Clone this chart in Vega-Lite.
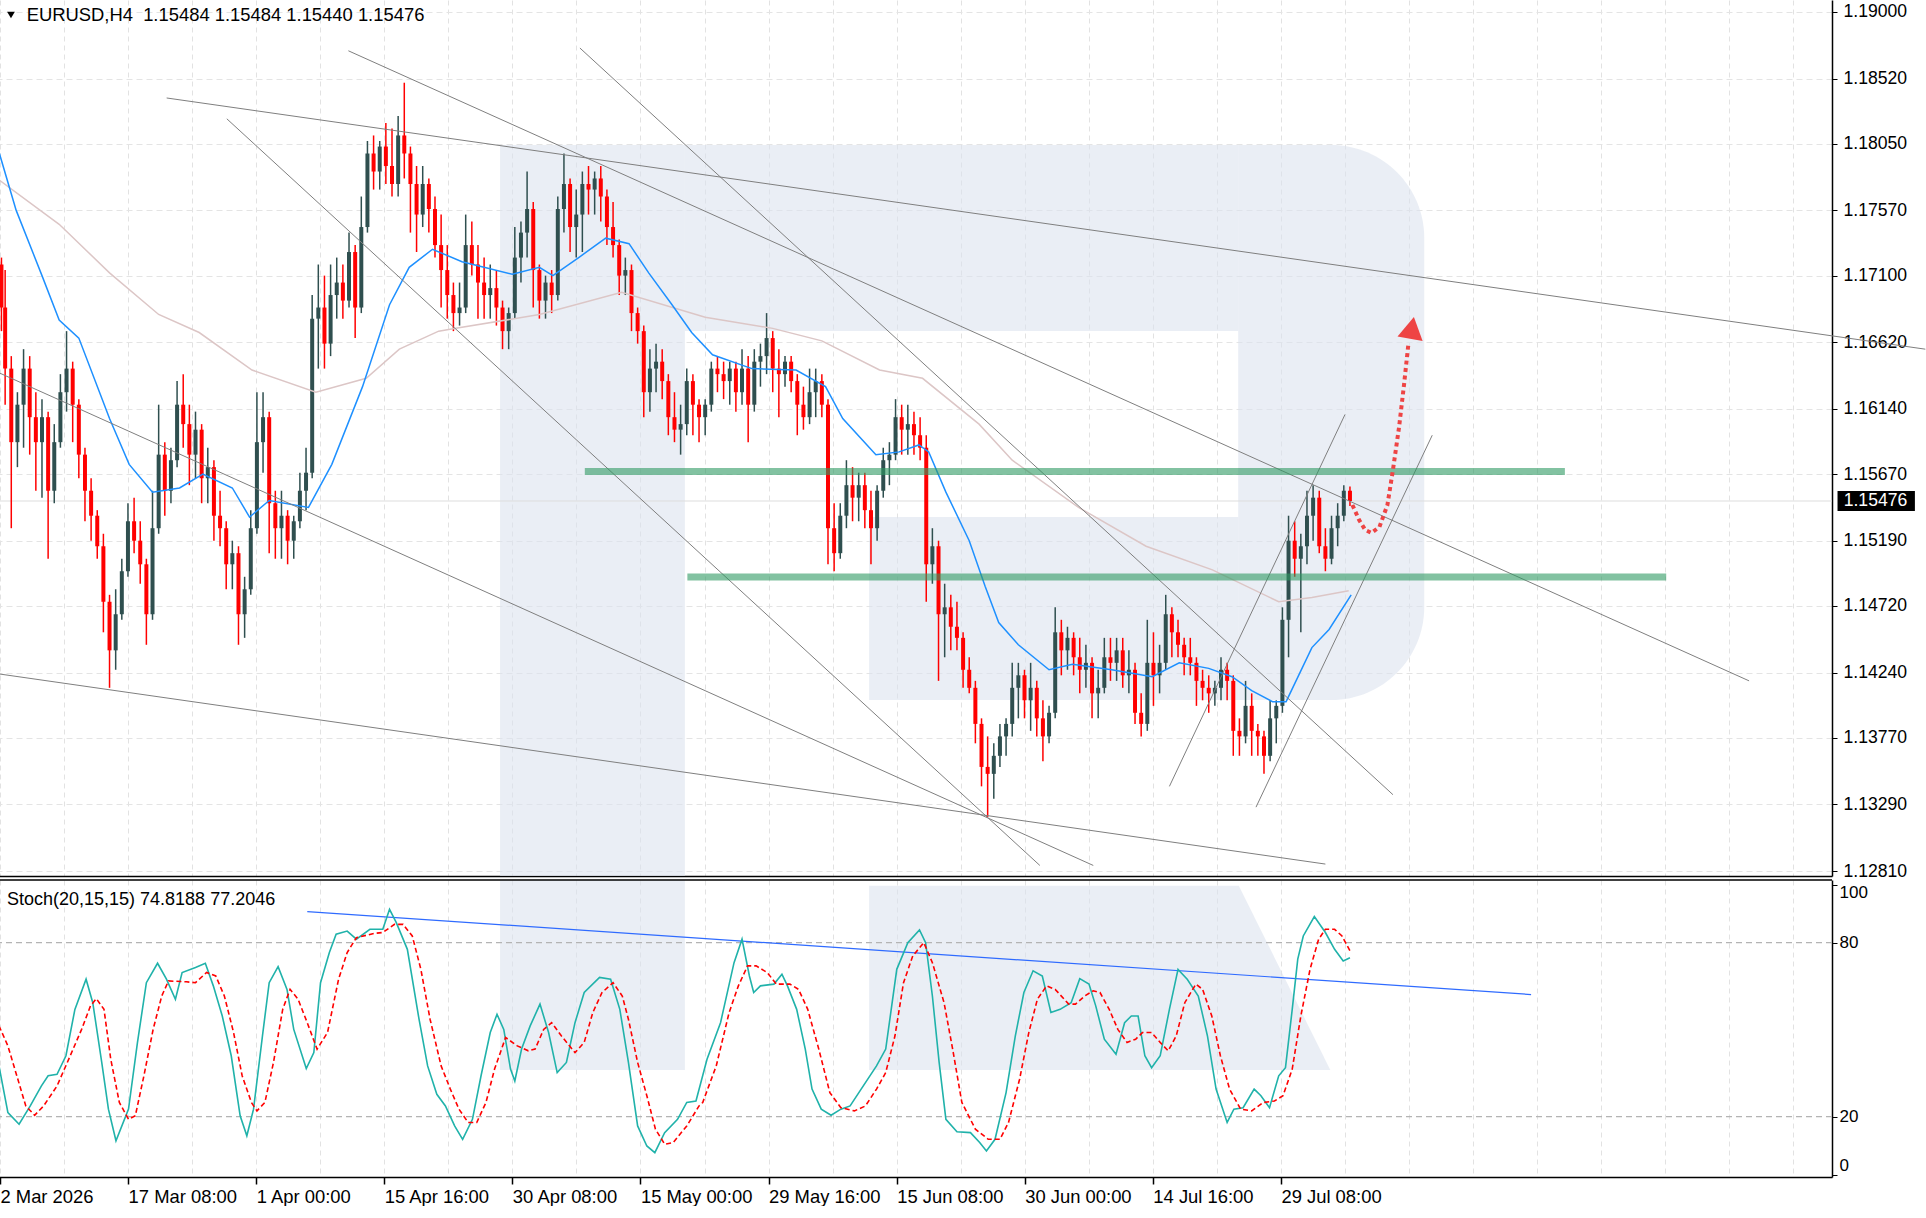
{
  "$schema": "https://vega.github.io/schema/vega-lite/v6.json",
  "background": "white",
  "padding": {"left": -5, "top": 0, "right": 0, "bottom": 0},
  "spacing": 4,
  "bounds": "flush",
  "config": {
    "view": {"stroke": null},
    "font": "Liberation Sans",
    "axis": {"labelFont": "Liberation Sans", "labelColor": "#000", "domainColor": "#000", "tickColor": "#000"}
  },
  "datasets": {
    "wmA": [
      {"x1": 81.6, "x2": 111.7, "p1": 1.12774, "p2": 1.18042},
      {"x1": 111.7, "x2": 201.8, "p1": 1.16701, "p2": 1.18042},
      {"x1": 141.7, "x2": 201.8, "p1": 1.14042, "p2": 1.15361}
    ],
    "wmB": [{"x1": 201.8, "x2": 232.1, "p1": 1.14042, "p2": 1.18042}],
    "wmC": [{"x1": 81.6, "x2": 111.7, "v1": 36.1, "v2": 101.6}],
    "wmD": [{"v": 99.6, "a": 141.7, "b": 201.9}, {"v": 36.1, "a": 141.7, "b": 216.8}],
    "candles": [
      {"n":0.4,"o":1.1718,"h":1.1723,"l":1.1670,"c":1.1687},
      {"n":1,"o":1.1687,"h":1.1714,"l":1.1617,"c":1.1643},
      {"n":2,"o":1.1643,"h":1.1652,"l":1.1528,"c":1.1590},
      {"n":3,"o":1.1590,"h":1.1626,"l":1.1572,"c":1.1617},
      {"n":4,"o":1.1617,"h":1.1657,"l":1.1586,"c":1.1643},
      {"n":5,"o":1.1643,"h":1.1652,"l":1.1581,"c":1.1608},
      {"n":6,"o":1.1608,"h":1.1626,"l":1.1555,"c":1.1590},
      {"n":7,"o":1.1590,"h":1.1621,"l":1.1550,"c":1.1608},
      {"n":8,"o":1.1608,"h":1.1612,"l":1.1506,"c":1.1555},
      {"n":9,"o":1.1555,"h":1.1603,"l":1.1546,"c":1.1590},
      {"n":10,"o":1.1590,"h":1.1639,"l":1.1586,"c":1.1626},
      {"n":11,"o":1.1626,"h":1.1670,"l":1.1612,"c":1.1643},
      {"n":12,"o":1.1643,"h":1.1648,"l":1.1590,"c":1.1617},
      {"n":13,"o":1.1617,"h":1.1621,"l":1.1564,"c":1.1581},
      {"n":14,"o":1.1581,"h":1.1586,"l":1.1533,"c":1.1555},
      {"n":15,"o":1.1555,"h":1.1564,"l":1.1519,"c":1.1537},
      {"n":16,"o":1.1537,"h":1.1541,"l":1.1506,"c":1.1515},
      {"n":17,"o":1.1515,"h":1.1524,"l":1.1453,"c":1.1475},
      {"n":18,"o":1.1475,"h":1.1480,"l":1.1413,"c":1.1440},
      {"n":19,"o":1.1440,"h":1.1484,"l":1.1426,"c":1.1466},
      {"n":20,"o":1.1466,"h":1.1506,"l":1.1462,"c":1.1497},
      {"n":21,"o":1.1497,"h":1.1546,"l":1.1493,"c":1.1533},
      {"n":22,"o":1.1533,"h":1.1550,"l":1.1510,"c":1.1519},
      {"n":23,"o":1.1519,"h":1.1533,"l":1.1488,"c":1.1502},
      {"n":24,"o":1.1502,"h":1.1506,"l":1.1444,"c":1.1466},
      {"n":25,"o":1.1466,"h":1.1555,"l":1.1462,"c":1.1528},
      {"n":26,"o":1.1528,"h":1.1617,"l":1.1524,"c":1.1581},
      {"n":27,"o":1.1581,"h":1.1590,"l":1.1537,"c":1.1555},
      {"n":28,"o":1.1555,"h":1.1586,"l":1.1546,"c":1.1577},
      {"n":29,"o":1.1577,"h":1.1634,"l":1.1572,"c":1.1617},
      {"n":30,"o":1.1617,"h":1.1639,"l":1.1586,"c":1.1603},
      {"n":31,"o":1.1603,"h":1.1617,"l":1.1559,"c":1.1581},
      {"n":32,"o":1.1581,"h":1.1612,"l":1.1564,"c":1.1599},
      {"n":33,"o":1.1599,"h":1.1603,"l":1.1546,"c":1.1564},
      {"n":34,"o":1.1564,"h":1.1586,"l":1.1546,"c":1.1572},
      {"n":35,"o":1.1572,"h":1.1577,"l":1.1519,"c":1.1537},
      {"n":36,"o":1.1537,"h":1.1555,"l":1.1515,"c":1.1528},
      {"n":37,"o":1.1528,"h":1.1533,"l":1.1484,"c":1.1502},
      {"n":38,"o":1.1502,"h":1.1519,"l":1.1484,"c":1.1510},
      {"n":39,"o":1.1510,"h":1.1515,"l":1.1444,"c":1.1466},
      {"n":40,"o":1.1466,"h":1.1493,"l":1.1449,"c":1.1484},
      {"n":41,"o":1.1484,"h":1.1541,"l":1.1480,"c":1.1528},
      {"n":42,"o":1.1528,"h":1.1626,"l":1.1524,"c":1.1590},
      {"n":43,"o":1.1590,"h":1.1626,"l":1.1568,"c":1.1608},
      {"n":44,"o":1.1608,"h":1.1612,"l":1.1510,"c":1.1546},
      {"n":45,"o":1.1546,"h":1.1555,"l":1.1506,"c":1.1528},
      {"n":46,"o":1.1528,"h":1.1555,"l":1.1506,"c":1.1537},
      {"n":47,"o":1.1537,"h":1.1541,"l":1.1502,"c":1.1519},
      {"n":48,"o":1.1519,"h":1.1537,"l":1.1506,"c":1.1533},
      {"n":49,"o":1.1533,"h":1.1568,"l":1.1528,"c":1.1555},
      {"n":50,"o":1.1555,"h":1.1586,"l":1.1541,"c":1.1568},
      {"n":51,"o":1.1568,"h":1.1696,"l":1.1564,"c":1.1679},
      {"n":52,"o":1.1679,"h":1.1718,"l":1.1643,"c":1.1687},
      {"n":53,"o":1.1687,"h":1.1710,"l":1.1643,"c":1.1661},
      {"n":54,"o":1.1661,"h":1.1718,"l":1.1652,"c":1.1696},
      {"n":55,"o":1.1696,"h":1.1723,"l":1.1679,"c":1.1705},
      {"n":56,"o":1.1705,"h":1.1718,"l":1.1679,"c":1.1692},
      {"n":57,"o":1.1692,"h":1.1741,"l":1.1687,"c":1.1727},
      {"n":58,"o":1.1727,"h":1.1732,"l":1.1665,"c":1.1687},
      {"n":59,"o":1.1687,"h":1.1767,"l":1.1683,"c":1.1745},
      {"n":60,"o":1.1745,"h":1.1807,"l":1.1741,"c":1.1798},
      {"n":61,"o":1.1798,"h":1.1811,"l":1.1772,"c":1.1785},
      {"n":62,"o":1.1785,"h":1.1807,"l":1.1772,"c":1.1803},
      {"n":63,"o":1.1803,"h":1.1820,"l":1.1776,"c":1.1789},
      {"n":64,"o":1.1789,"h":1.1816,"l":1.1767,"c":1.1776},
      {"n":65,"o":1.1776,"h":1.1825,"l":1.1767,"c":1.1811},
      {"n":66,"o":1.1811,"h":1.1849,"l":1.1780,"c":1.1798},
      {"n":67,"o":1.1798,"h":1.1803,"l":1.1741,"c":1.1776},
      {"n":68,"o":1.1776,"h":1.1789,"l":1.1727,"c":1.1754},
      {"n":69,"o":1.1754,"h":1.1789,"l":1.1745,"c":1.1776},
      {"n":70,"o":1.1776,"h":1.1780,"l":1.1741,"c":1.1758},
      {"n":71,"o":1.1758,"h":1.1767,"l":1.1723,"c":1.1732},
      {"n":72,"o":1.1732,"h":1.1754,"l":1.1687,"c":1.1714},
      {"n":73,"o":1.1714,"h":1.1732,"l":1.1679,"c":1.1696},
      {"n":74,"o":1.1696,"h":1.1705,"l":1.1670,"c":1.1683},
      {"n":75,"o":1.1683,"h":1.1705,"l":1.1674,"c":1.1687},
      {"n":76,"o":1.1687,"h":1.1754,"l":1.1683,"c":1.1732},
      {"n":77,"o":1.1732,"h":1.1749,"l":1.1710,"c":1.1718},
      {"n":78,"o":1.1718,"h":1.1732,"l":1.1679,"c":1.1705},
      {"n":79,"o":1.1705,"h":1.1723,"l":1.1679,"c":1.1696},
      {"n":80,"o":1.1696,"h":1.1718,"l":1.1679,"c":1.1701},
      {"n":81,"o":1.1701,"h":1.1714,"l":1.1674,"c":1.1687},
      {"n":82,"o":1.1687,"h":1.1692,"l":1.1657,"c":1.1670},
      {"n":83,"o":1.1670,"h":1.1687,"l":1.1657,"c":1.1683},
      {"n":84,"o":1.1683,"h":1.1745,"l":1.1679,"c":1.1723},
      {"n":85,"o":1.1723,"h":1.1749,"l":1.1705,"c":1.1741},
      {"n":86,"o":1.1741,"h":1.1785,"l":1.1723,"c":1.1758},
      {"n":87,"o":1.1758,"h":1.1763,"l":1.1687,"c":1.1714},
      {"n":88,"o":1.1714,"h":1.1718,"l":1.1679,"c":1.1692},
      {"n":89,"o":1.1692,"h":1.1710,"l":1.1679,"c":1.1705},
      {"n":90,"o":1.1705,"h":1.1714,"l":1.1683,"c":1.1696},
      {"n":91,"o":1.1696,"h":1.1767,"l":1.1692,"c":1.1758},
      {"n":92,"o":1.1758,"h":1.1798,"l":1.1741,"c":1.1776},
      {"n":93,"o":1.1776,"h":1.1780,"l":1.1727,"c":1.1745},
      {"n":94,"o":1.1745,"h":1.1772,"l":1.1723,"c":1.1754},
      {"n":95,"o":1.1754,"h":1.1785,"l":1.1727,"c":1.1776},
      {"n":96,"o":1.1776,"h":1.1789,"l":1.1754,"c":1.1772},
      {"n":97,"o":1.1772,"h":1.1785,"l":1.1754,"c":1.1780},
      {"n":98,"o":1.1780,"h":1.1789,"l":1.1749,"c":1.1767},
      {"n":99,"o":1.1767,"h":1.1772,"l":1.1732,"c":1.1745},
      {"n":100,"o":1.1745,"h":1.1763,"l":1.1723,"c":1.1732},
      {"n":101,"o":1.1732,"h":1.1736,"l":1.1696,"c":1.1710},
      {"n":102,"o":1.1710,"h":1.1723,"l":1.1696,"c":1.1714},
      {"n":103,"o":1.1714,"h":1.1718,"l":1.1670,"c":1.1683},
      {"n":104,"o":1.1683,"h":1.1687,"l":1.1661,"c":1.1670},
      {"n":105,"o":1.1670,"h":1.1674,"l":1.1608,"c":1.1626},
      {"n":106,"o":1.1626,"h":1.1657,"l":1.1612,"c":1.1643},
      {"n":107,"o":1.1643,"h":1.1661,"l":1.1626,"c":1.1648},
      {"n":108,"o":1.1648,"h":1.1657,"l":1.1621,"c":1.1634},
      {"n":109,"o":1.1634,"h":1.1639,"l":1.1595,"c":1.1608},
      {"n":110,"o":1.1608,"h":1.1626,"l":1.1590,"c":1.1599},
      {"n":111,"o":1.1599,"h":1.1617,"l":1.1581,"c":1.1603},
      {"n":112,"o":1.1603,"h":1.1643,"l":1.1595,"c":1.1634},
      {"n":113,"o":1.1634,"h":1.1639,"l":1.1595,"c":1.1617},
      {"n":114,"o":1.1617,"h":1.1621,"l":1.1590,"c":1.1608},
      {"n":115,"o":1.1608,"h":1.1621,"l":1.1595,"c":1.1617},
      {"n":116,"o":1.1617,"h":1.1648,"l":1.1612,"c":1.1643},
      {"n":117,"o":1.1643,"h":1.1652,"l":1.1626,"c":1.1639},
      {"n":118,"o":1.1639,"h":1.1648,"l":1.1621,"c":1.1634},
      {"n":119,"o":1.1634,"h":1.1648,"l":1.1617,"c":1.1643},
      {"n":120,"o":1.1643,"h":1.1648,"l":1.1612,"c":1.1626},
      {"n":121,"o":1.1626,"h":1.1657,"l":1.1617,"c":1.1643},
      {"n":122,"o":1.1643,"h":1.1652,"l":1.1590,"c":1.1617},
      {"n":123,"o":1.1617,"h":1.1657,"l":1.1612,"c":1.1648},
      {"n":124,"o":1.1648,"h":1.1661,"l":1.1630,"c":1.1652},
      {"n":125,"o":1.1652,"h":1.1683,"l":1.1639,"c":1.1665},
      {"n":126,"o":1.1665,"h":1.1670,"l":1.1626,"c":1.1643},
      {"n":127,"o":1.1643,"h":1.1657,"l":1.1608,"c":1.1639},
      {"n":128,"o":1.1639,"h":1.1652,"l":1.1630,"c":1.1648},
      {"n":129,"o":1.1648,"h":1.1652,"l":1.1626,"c":1.1634},
      {"n":130,"o":1.1634,"h":1.1639,"l":1.1595,"c":1.1617},
      {"n":131,"o":1.1617,"h":1.1630,"l":1.1599,"c":1.1608},
      {"n":132,"o":1.1608,"h":1.1643,"l":1.1603,"c":1.1626},
      {"n":133,"o":1.1626,"h":1.1643,"l":1.1608,"c":1.1634},
      {"n":134,"o":1.1634,"h":1.1639,"l":1.1608,"c":1.1617},
      {"n":135,"o":1.1617,"h":1.1621,"l":1.1502,"c":1.1528},
      {"n":136,"o":1.1528,"h":1.1546,"l":1.1497,"c":1.1510},
      {"n":137,"o":1.1510,"h":1.1546,"l":1.1506,"c":1.1537},
      {"n":138,"o":1.1537,"h":1.1577,"l":1.1528,"c":1.1559},
      {"n":139,"o":1.1559,"h":1.1572,"l":1.1533,"c":1.1550},
      {"n":140,"o":1.1550,"h":1.1568,"l":1.1533,"c":1.1559},
      {"n":141,"o":1.1559,"h":1.1568,"l":1.1528,"c":1.1541},
      {"n":142,"o":1.1541,"h":1.1555,"l":1.1502,"c":1.1528},
      {"n":143,"o":1.1528,"h":1.1559,"l":1.1519,"c":1.1555},
      {"n":144,"o":1.1555,"h":1.1586,"l":1.1550,"c":1.1577},
      {"n":145,"o":1.1577,"h":1.1590,"l":1.1559,"c":1.1581},
      {"n":146,"o":1.1581,"h":1.1621,"l":1.1577,"c":1.1608},
      {"n":147,"o":1.1608,"h":1.1617,"l":1.1581,"c":1.1599},
      {"n":148,"o":1.1599,"h":1.1617,"l":1.1581,"c":1.1603},
      {"n":149,"o":1.1603,"h":1.1612,"l":1.1581,"c":1.1595},
      {"n":150,"o":1.1595,"h":1.1608,"l":1.1577,"c":1.1586},
      {"n":151,"o":1.1586,"h":1.1595,"l":1.1475,"c":1.1502},
      {"n":152,"o":1.1502,"h":1.1528,"l":1.1488,"c":1.1515},
      {"n":153,"o":1.1515,"h":1.1519,"l":1.1418,"c":1.1466},
      {"n":154,"o":1.1466,"h":1.1488,"l":1.1435,"c":1.1471},
      {"n":155,"o":1.1471,"h":1.1480,"l":1.1440,"c":1.1457},
      {"n":156,"o":1.1457,"h":1.1475,"l":1.1440,"c":1.1449},
      {"n":157,"o":1.1449,"h":1.1453,"l":1.1413,"c":1.1426},
      {"n":158,"o":1.1426,"h":1.1435,"l":1.1409,"c":1.1413},
      {"n":159,"o":1.1413,"h":1.1418,"l":1.1373,"c":1.1387},
      {"n":160,"o":1.1387,"h":1.1391,"l":1.1342,"c":1.1356},
      {"n":161,"o":1.1356,"h":1.1378,"l":1.1320,"c":1.1351},
      {"n":162,"o":1.1351,"h":1.1373,"l":1.1333,"c":1.1364},
      {"n":163,"o":1.1364,"h":1.1387,"l":1.1356,"c":1.1378},
      {"n":164,"o":1.1378,"h":1.1391,"l":1.1364,"c":1.1387},
      {"n":165,"o":1.1387,"h":1.1431,"l":1.1378,"c":1.1413},
      {"n":166,"o":1.1413,"h":1.1431,"l":1.1391,"c":1.1422},
      {"n":167,"o":1.1422,"h":1.1426,"l":1.1391,"c":1.1404},
      {"n":168,"o":1.1404,"h":1.1431,"l":1.1382,"c":1.1413},
      {"n":169,"o":1.1413,"h":1.1418,"l":1.1378,"c":1.1391},
      {"n":170,"o":1.1391,"h":1.1404,"l":1.1360,"c":1.1378},
      {"n":171,"o":1.1378,"h":1.1400,"l":1.1373,"c":1.1395},
      {"n":172,"o":1.1395,"h":1.1471,"l":1.1391,"c":1.1453},
      {"n":173,"o":1.1453,"h":1.1462,"l":1.1422,"c":1.1440},
      {"n":174,"o":1.1440,"h":1.1457,"l":1.1426,"c":1.1449},
      {"n":175,"o":1.1449,"h":1.1453,"l":1.1422,"c":1.1435},
      {"n":176,"o":1.1435,"h":1.1449,"l":1.1409,"c":1.1426},
      {"n":177,"o":1.1426,"h":1.1444,"l":1.1413,"c":1.1431},
      {"n":178,"o":1.1431,"h":1.1435,"l":1.1391,"c":1.1409},
      {"n":179,"o":1.1409,"h":1.1426,"l":1.1391,"c":1.1413},
      {"n":180,"o":1.1413,"h":1.1449,"l":1.1409,"c":1.1435},
      {"n":181,"o":1.1435,"h":1.1449,"l":1.1418,"c":1.1431},
      {"n":182,"o":1.1431,"h":1.1449,"l":1.1418,"c":1.1440},
      {"n":183,"o":1.1440,"h":1.1449,"l":1.1413,"c":1.1422},
      {"n":184,"o":1.1422,"h":1.1440,"l":1.1409,"c":1.1426},
      {"n":185,"o":1.1426,"h":1.1431,"l":1.1387,"c":1.1395},
      {"n":186,"o":1.1395,"h":1.1409,"l":1.1378,"c":1.1387},
      {"n":187,"o":1.1387,"h":1.1462,"l":1.1382,"c":1.1431},
      {"n":188,"o":1.1431,"h":1.1453,"l":1.1400,"c":1.1422},
      {"n":189,"o":1.1422,"h":1.1444,"l":1.1409,"c":1.1431},
      {"n":190,"o":1.1431,"h":1.1480,"l":1.1426,"c":1.1466},
      {"n":191,"o":1.1466,"h":1.1471,"l":1.1435,"c":1.1453},
      {"n":192,"o":1.1453,"h":1.1462,"l":1.1435,"c":1.1444},
      {"n":193,"o":1.1444,"h":1.1449,"l":1.1422,"c":1.1435},
      {"n":194,"o":1.1435,"h":1.1449,"l":1.1422,"c":1.1431},
      {"n":195,"o":1.1431,"h":1.1435,"l":1.1400,"c":1.1418},
      {"n":196,"o":1.1418,"h":1.1426,"l":1.1404,"c":1.1413},
      {"n":197,"o":1.1413,"h":1.1422,"l":1.1395,"c":1.1409},
      {"n":198,"o":1.1409,"h":1.1418,"l":1.1400,"c":1.1413},
      {"n":199,"o":1.1413,"h":1.1435,"l":1.1404,"c":1.1426},
      {"n":200,"o":1.1426,"h":1.1431,"l":1.1404,"c":1.1418},
      {"n":201,"o":1.1418,"h":1.1422,"l":1.1364,"c":1.1382},
      {"n":202,"o":1.1382,"h":1.1391,"l":1.1364,"c":1.1378},
      {"n":203,"o":1.1378,"h":1.1418,"l":1.1373,"c":1.1400},
      {"n":204,"o":1.1400,"h":1.1409,"l":1.1364,"c":1.1382},
      {"n":205,"o":1.1382,"h":1.1387,"l":1.1364,"c":1.1378},
      {"n":206,"o":1.1378,"h":1.1382,"l":1.1351,"c":1.1364},
      {"n":207,"o":1.1364,"h":1.1404,"l":1.1360,"c":1.1391},
      {"n":208,"o":1.1391,"h":1.1404,"l":1.1373,"c":1.1400},
      {"n":209,"o":1.1400,"h":1.1471,"l":1.1395,"c":1.1462},
      {"n":210,"o":1.1462,"h":1.1537,"l":1.1435,"c":1.1519},
      {"n":211,"o":1.1519,"h":1.1533,"l":1.1493,"c":1.1506},
      {"n":212,"o":1.1506,"h":1.1524,"l":1.1453,"c":1.1515},
      {"n":213,"o":1.1515,"h":1.1555,"l":1.1502,"c":1.1537},
      {"n":214,"o":1.1537,"h":1.1559,"l":1.1519,"c":1.1550},
      {"n":215,"o":1.1550,"h":1.1555,"l":1.1510,"c":1.1515},
      {"n":216,"o":1.1515,"h":1.1528,"l":1.1497,"c":1.1506},
      {"n":217,"o":1.1506,"h":1.1537,"l":1.1502,"c":1.1528},
      {"n":218,"o":1.1528,"h":1.1546,"l":1.1515,"c":1.1537},
      {"n":219,"o":1.1537,"h":1.1559,"l":1.1533,"c":1.1555},
      {"n":220,"o":1.1555,"h":1.1558,"l":1.1544,"c":1.15476}
    ],
    "maFast": [
      {"n":0,"p":1.1799},{"n":2.8,"p":1.1757},{"n":7,"p":1.1710},{"n":9.8,"p":1.1678},{"n":13,"p":1.1665},
      {"n":18,"p":1.1607},{"n":21.2,"p":1.1574},{"n":25,"p":1.1554},{"n":29.4,"p":1.1557},{"n":33.2,"p":1.1567},
      {"n":38,"p":1.1557},{"n":40.8,"p":1.1536},{"n":44,"p":1.1548},{"n":50.4,"p":1.1543},{"n":54.2,"p":1.1574},
      {"n":59.2,"p":1.1630},{"n":63.6,"p":1.1689},{"n":66.8,"p":1.1716},{"n":70.6,"p":1.1729},{"n":75.4,"p":1.1720},
      {"n":83.6,"p":1.1711},{"n":88,"p":1.1716},{"n":90.2,"p":1.1710},{"n":94.4,"p":1.1723},{"n":98.8,"p":1.1737},
      {"n":102.6,"p":1.1733},{"n":105.8,"p":1.1712},{"n":109.6,"p":1.1689},{"n":112.8,"p":1.1669},{"n":116.2,"p":1.1653},
      {"n":122.6,"p":1.1643},{"n":129.8,"p":1.1642},{"n":134.6,"p":1.1630},{"n":137.4,"p":1.1607},{"n":142.8,"p":1.1581},
      {"n":146.6,"p":1.1583},{"n":149.8,"p":1.1588},{"n":151.4,"p":1.1583},{"n":154.2,"p":1.1554},{"n":158,"p":1.1519},
      {"n":160.6,"p":1.1486},{"n":162.8,"p":1.1460},{"n":166,"p":1.1444},{"n":171,"p":1.1426},{"n":174.8,"p":1.1430},
      {"n":181.2,"p":1.1426},{"n":187.8,"p":1.1421},{"n":192.2,"p":1.1431},{"n":197,"p":1.1427},{"n":200.8,"p":1.1421},
      {"n":204,"p":1.1411},{"n":207.4,"p":1.1403},{"n":209.6,"p":1.1403},{"n":213.8,"p":1.1442},{"n":216.6,"p":1.1455},
      {"n":220.2,"p":1.1480}
    ],
    "maSlow": [
      {"n":0,"p":1.1779},{"n":9.8,"p":1.1747},{"n":18,"p":1.1712},{"n":26,"p":1.1682},{"n":32.6,"p":1.1669},
      {"n":41.2,"p":1.1642},{"n":51.6,"p":1.1626},{"n":59.8,"p":1.1636},{"n":65.2,"p":1.1657},{"n":71.6,"p":1.1670},
      {"n":74.4,"p":1.1672},{"n":88,"p":1.1682},{"n":101.4,"p":1.1698},{"n":115,"p":1.1680},{"n":126,"p":1.1672},
      {"n":134,"p":1.1663},{"n":143.4,"p":1.1642},{"n":150.4,"p":1.1636},{"n":159.6,"p":1.1603},{"n":165,"p":1.1577},
      {"n":175.8,"p":1.1543},{"n":186.8,"p":1.1515},{"n":197.6,"p":1.1498},{"n":208.4,"p":1.1475},{"n":213.8,"p":1.1478},
      {"n":219.8,"p":1.1483}
    ],
    "tl": [
      {"x1":27.3,"y1":1.1838,"x2":313.7,"y2":1.1657},
      {"x1":56.9,"y1":1.1872,"x2":285.0,"y2":1.1418},
      {"x1":94.6,"y1":1.1874,"x2":227.0,"y2":1.1336},
      {"x1":37.1,"y1":1.1823,"x2":169.5,"y2":1.1285},
      {"x1":0,"y1":1.1640,"x2":178.2,"y2":1.1285},
      {"x1":0,"y1":1.1423,"x2":216.0,"y2":1.1286},
      {"x1":190.6,"y1":1.1342,"x2":219.2,"y2":1.1610},
      {"x1":204.7,"y1":1.1327,"x2":233.4,"y2":1.1595}
    ],
    "zones": [
      {"x1":95.4,"x2":255.0,"p":1.15688},
      {"x1":112.1,"x2":271.5,"p":1.14928}
    ],
    "fc": [
      {"n":220.4,"p":1.15447},{"n":221.5,"p":1.15339},{"n":222.5,"p":1.15267},{"n":223.5,"p":1.15246},
      {"n":224.8,"p":1.15289},{"n":226.1,"p":1.15447},{"n":227.0,"p":1.15700},{"n":228.0,"p":1.16009},
      {"n":228.8,"p":1.16312},{"n":229.5,"p":1.16600}
    ],
    "stK": [
      {"n":0,"v":37.5},{"n":1.45,"v":21.4},{"n":3.27,"v":17.4},{"n":5.09,"v":23.7},{"n":6.91,"v":30.6},{"n":8.0,"v":34.1},
      {"n":9.45,"v":34.6},{"n":10.9,"v":41.0},{"n":12.36,"v":57.0},{"n":14.18,"v":67.4},{"n":15.27,"v":59.3},{"n":16.73,"v":38.7},
      {"n":17.82,"v":22.6},{"n":19.05,"v":11.7},{"n":21.09,"v":22.6},{"n":22.55,"v":45.6},{"n":24.0,"v":66.2},{"n":25.82,"v":72.9},
      {"n":27.27,"v":67.4},{"n":28.73,"v":60.5},{"n":29.82,"v":69.7},{"n":32.0,"v":71.4},{"n":33.6,"v":72.9},{"n":34.9,"v":65.1},
      {"n":36.36,"v":54.7},{"n":37.82,"v":41.0},{"n":39.27,"v":20.3},{"n":40.36,"v":13.4},{"n":41.45,"v":22.6},{"n":42.9,"v":47.8},
      {"n":44.0,"v":66.2},{"n":45.45,"v":71.7},{"n":46.9,"v":63.9},{"n":48.0,"v":50.1},{"n":50.04,"v":36.6},{"n":51.27,"v":42.1},
      {"n":52.36,"v":66.2},{"n":53.8,"v":76.6},{"n":54.9,"v":82.9},{"n":56.7,"v":84.0},{"n":58.2,"v":81.2},{"n":60.4,"v":84.6},
      {"n":62.5,"v":84.6},{"n":63.6,"v":91.5},{"n":64.7,"v":86.9},{"n":66.5,"v":77.7},{"n":68.4,"v":53.6},{"n":69.8,"v":37.5},
      {"n":71.3,"v":27.7},{"n":72.7,"v":23.7},{"n":74.2,"v":16.8},{"n":75.5,"v":12.2},{"n":77.1,"v":19.1},{"n":78.5,"v":34.1},
      {"n":80.0,"v":49.0},{"n":81.1,"v":55.3},{"n":82.2,"v":50.1},{"n":83.3,"v":36.4},{"n":84.0,"v":32.3},{"n":85.1,"v":43.3},
      {"n":86.5,"v":51.3},{"n":88.1,"v":58.8},{"n":89.5,"v":49.0},{"n":90.9,"v":35.2},{"n":92.4,"v":38.7},{"n":93.8,"v":52.4},
      {"n":95.3,"v":62.8},{"n":97.8,"v":68.0},{"n":99.6,"v":67.4},{"n":101.1,"v":57.0},{"n":102.5,"v":38.7},{"n":104.0,"v":16.8},
      {"n":105.5,"v":9.9},{"n":106.8,"v":7.6},{"n":108.4,"v":14.5},{"n":110.5,"v":19.1},{"n":112.0,"v":24.9},{"n":113.5,"v":25.4},
      {"n":115.3,"v":39.8},{"n":117.5,"v":52.4},{"n":119.7,"v":73.1},{"n":121.0,"v":81.2},{"n":122.2,"v":68.5},{"n":122.9,"v":62.8},
      {"n":124.0,"v":65.1},{"n":126.2,"v":65.7},{"n":127.5,"v":69.1},{"n":128.4,"v":65.1},{"n":129.9,"v":57.0},{"n":131.3,"v":43.3},
      {"n":132.4,"v":29.5},{"n":133.9,"v":22.6},{"n":135.5,"v":20.5},{"n":137.1,"v":22.6},{"n":138.6,"v":23.7},{"n":140.4,"v":29.5},
      {"n":142.9,"v":37.5},{"n":144.4,"v":43.3},{"n":146.2,"v":70.8},{"n":148.0,"v":80.0},{"n":149.9,"v":84.4},{"n":150.9,"v":80.0},
      {"n":152.0,"v":61.6},{"n":153.1,"v":38.7},{"n":154.2,"v":19.1},{"n":156.0,"v":14.8},{"n":158.2,"v":14.5},{"n":159.7,"v":11.1},
      {"n":160.8,"v":8.2},{"n":162.2,"v":12.2},{"n":164.0,"v":28.3},{"n":165.5,"v":47.8},{"n":166.9,"v":62.8},{"n":168.4,"v":70.3},
      {"n":169.9,"v":68.5},{"n":171.3,"v":55.9},{"n":172.8,"v":57.0},{"n":174.6,"v":59.3},{"n":176.0,"v":67.6},{"n":177.5,"v":65.7},
      {"n":178.6,"v":58.2},{"n":180.0,"v":46.7},{"n":181.9,"v":41.5},{"n":183.3,"v":52.4},{"n":184.4,"v":54.7},{"n":185.5,"v":54.7},
      {"n":186.6,"v":41.0},{"n":187.7,"v":36.9},{"n":189.1,"v":41.0},{"n":190.6,"v":57.0},{"n":192.0,"v":70.8},{"n":193.5,"v":67.4},
      {"n":195.3,"v":61.6},{"n":196.8,"v":47.8},{"n":198.2,"v":29.5},{"n":200.0,"v":18.0},{"n":201.1,"v":22.6},{"n":202.6,"v":23.1},
      {"n":204.4,"v":29.5},{"n":205.5,"v":27.2},{"n":206.9,"v":23.1},{"n":208.4,"v":34.1},{"n":209.5,"v":36.9},{"n":210.6,"v":57.0},
      {"n":211.5,"v":74.3},{"n":212.4,"v":82.3},{"n":214.2,"v":89.0},{"n":216.0,"v":83.5},{"n":217.5,"v":77.7},{"n":218.9,"v":73.7},
      {"n":220.0,"v":74.8}
    ],
    "stD": [
      {"n":0,"v":51.3},{"n":1.45,"v":44.4},{"n":2.9,"v":34.1},{"n":4.36,"v":23.7},{"n":5.8,"v":20.5},{"n":7.27,"v":23.7},
      {"n":9.45,"v":30.6},{"n":11.6,"v":41.0},{"n":13.45,"v":50.1},{"n":14.9,"v":58.2},{"n":15.85,"v":60.7},{"n":17.1,"v":57.0},
      {"n":18.2,"v":39.8},{"n":19.6,"v":24.9},{"n":21.1,"v":19.1},{"n":22.2,"v":20.3},{"n":23.6,"v":34.1},{"n":25.1,"v":50.1},
      {"n":26.5,"v":61.6},{"n":27.6,"v":66.8},{"n":30.5,"v":66.5},{"n":32.0,"v":66.2},{"n":33.8,"v":69.7},{"n":35.3,"v":68.5},
      {"n":36.7,"v":61.6},{"n":38.2,"v":49.0},{"n":39.6,"v":34.1},{"n":41.1,"v":24.9},{"n":42.0,"v":22.0},{"n":43.3,"v":24.9},
      {"n":44.7,"v":38.7},{"n":46.2,"v":57.0},{"n":47.4,"v":63.9},{"n":48.7,"v":60.5},{"n":50.2,"v":52.4},{"n":51.8,"v":43.3},
      {"n":53.5,"v":49.0},{"n":55.3,"v":67.4},{"n":56.7,"v":76.6},{"n":58.2,"v":81.7},{"n":61.1,"v":83.2},{"n":62.5,"v":83.5},
      {"n":64.4,"v":86.3},{"n":65.8,"v":86.3},{"n":67.3,"v":82.3},{"n":68.7,"v":70.8},{"n":70.2,"v":53.6},{"n":72.0,"v":37.5},
      {"n":73.5,"v":29.5},{"n":74.9,"v":22.6},{"n":76.4,"v":18.0},{"n":77.8,"v":18.0},{"n":79.3,"v":24.9},{"n":80.7,"v":36.4},
      {"n":82.5,"v":47.3},{"n":84.4,"v":44.4},{"n":86.2,"v":42.7},{"n":87.3,"v":43.3},{"n":88.7,"v":50.1},{"n":90.0,"v":52.4},
      {"n":91.6,"v":47.8},{"n":93.8,"v":42.1},{"n":95.3,"v":45.6},{"n":96.7,"v":55.9},{"n":98.2,"v":62.8},{"n":100.0,"v":66.2},
      {"n":101.5,"v":61.6},{"n":102.5,"v":53.6},{"n":104.0,"v":38.7},{"n":105.5,"v":27.2},{"n":106.9,"v":15.7},{"n":108.4,"v":10.5},
      {"n":109.8,"v":11.1},{"n":112.0,"v":16.8},{"n":114.0,"v":23.7},{"n":114.6,"v":24.9},{"n":116.8,"v":37.5},{"n":118.9,"v":55.9},
      {"n":120.4,"v":65.1},{"n":121.9,"v":72.0},{"n":123.3,"v":72.0},{"n":125.1,"v":69.7},{"n":126.6,"v":65.7},{"n":128.8,"v":65.7},
      {"n":130.2,"v":63.9},{"n":131.7,"v":57.0},{"n":133.5,"v":43.3},{"n":135.3,"v":28.3},{"n":137.1,"v":23.1},{"n":139.3,"v":22.0},
      {"n":141.1,"v":23.7},{"n":142.9,"v":29.5},{"n":144.4,"v":35.2},{"n":145.9,"v":47.8},{"n":147.3,"v":66.2},{"n":148.8,"v":75.4},
      {"n":150.6,"v":80.0},{"n":152.0,"v":73.1},{"n":153.9,"v":59.3},{"n":155.3,"v":43.3},{"n":156.8,"v":24.9},{"n":159.0,"v":15.7},
      {"n":161.1,"v":12.2},{"n":163.0,"v":12.2},{"n":164.4,"v":18.0},{"n":166.2,"v":32.9},{"n":167.7,"v":49.0},{"n":169.1,"v":60.5},
      {"n":170.6,"v":65.1},{"n":172.0,"v":63.9},{"n":174.2,"v":58.8},{"n":175.3,"v":58.8},{"n":176.8,"v":61.6},{"n":178.2,"v":63.4},
      {"n":179.3,"v":62.8},{"n":180.8,"v":57.0},{"n":182.2,"v":50.1},{"n":183.7,"v":45.6},{"n":185.1,"v":46.7},{"n":186.2,"v":49.0},
      {"n":187.7,"v":49.0},{"n":189.1,"v":45.6},{"n":190.4,"v":42.7},{"n":191.7,"v":47.8},{"n":193.1,"v":59.3},{"n":194.9,"v":65.7},
      {"n":196.0,"v":63.9},{"n":197.5,"v":54.7},{"n":198.9,"v":41.0},{"n":200.4,"v":29.5},{"n":202.2,"v":22.6},{"n":204.0,"v":22.0},
      {"n":205.9,"v":24.9},{"n":207.7,"v":25.4},{"n":209.1,"v":27.2},{"n":210.6,"v":36.4},{"n":212.0,"v":54.7},{"n":213.5,"v":70.8},
      {"n":214.9,"v":81.2},{"n":216.0,"v":84.6},{"n":217.5,"v":84.6},{"n":218.7,"v":82.3},{"n":220.0,"v":77.2}
    ]
  },
  "vconcat": [
    {
      "width": 1833,
      "height": 876,
      "layer": [
        {
          "data": {"name": "wmA"},
          "mark": {"type": "rect", "color": "#dce3ee", "fillOpacity": 0.6},
          "encoding": {
            "x": {
              "field": "x1", "type": "quantitative",
              "scale": {"domain": [0, 298.5], "nice": false, "zero": false, "padding": 0},
              "axis": {
                "title": null, "orient": "bottom",
                "values": [0.16,10.59,21.02,31.45,41.88,52.31,62.74,73.17,83.6,94.03,104.46,114.89,125.32,135.75,146.18,156.61,167.04,177.47,187.9,198.33,208.76,219.19,229.62,240.05,250.48,260.91,271.34,281.77,292.2],
                "labels": false, "ticks": false, "domainWidth": 1.5,
                "grid": true, "gridColor": "#e2e2e2", "gridDash": [5, 4]
              }
            },
            "x2": {"field": "x2"},
            "y": {
              "field": "p1", "type": "quantitative",
              "scale": {"domain": [1.12774, 1.19086], "nice": false, "zero": false, "padding": 0},
              "axis": {
                "title": null, "orient": "right",
                "values": [1.19, 1.1852, 1.1805, 1.1757, 1.171, 1.1662, 1.1614, 1.1567, 1.1519, 1.1472, 1.1424, 1.1377, 1.1329, 1.1281],
                "format": ".5f", "labelFontSize": 17.6, "labelPadding": 6, "labelOverlap": false,
                "tickSize": 5, "domainWidth": 1.5,
                "grid": true, "gridColor": "#e4e4e4", "gridDash": [6, 4]
              }
            },
            "y2": {"field": "p2"}
          }
        },
        {
          "data": {"name": "wmB"},
          "mark": {"type": "rect", "color": "#dce3ee", "fillOpacity": 0.6, "cornerRadiusTopRight": 100, "cornerRadiusBottomRight": 175},
          "encoding": {
            "x": {"field": "x1", "type": "quantitative"},
            "x2": {"field": "x2"},
            "y": {"field": "p1", "type": "quantitative"},
            "y2": {"field": "p2"}
          }
        },
        {
          "data": {"values": [{}]},
          "mark": {"type": "rule", "color": "#dddddd", "strokeWidth": 1},
          "encoding": {"y": {"datum": 1.15476}}
        },
        {
          "data": {"name": "candles"},
          "mark": {"type": "rule", "strokeWidth": 1.5},
          "encoding": {
            "x": {"field": "n", "type": "quantitative"},
            "y": {"field": "l", "type": "quantitative"},
            "y2": {"field": "h"},
            "color": {"condition": {"test": "datum.c >= datum.o", "value": "#2f4f4f"}, "value": "#ff0000"}
          }
        },
        {
          "data": {"name": "candles"},
          "mark": {"type": "bar", "size": 4},
          "encoding": {
            "x": {"field": "n", "type": "quantitative"},
            "y": {"field": "o", "type": "quantitative"},
            "y2": {"field": "c"},
            "color": {"condition": {"test": "datum.c >= datum.o", "value": "#2f4f4f"}, "value": "#ff0000"}
          }
        },
        {
          "data": {"name": "maSlow"},
          "mark": {"type": "line", "color": "#dcc6c6", "strokeWidth": 1.5},
          "encoding": {"x": {"field": "n", "type": "quantitative"}, "y": {"field": "p", "type": "quantitative"}}
        },
        {
          "data": {"name": "maFast"},
          "mark": {"type": "line", "color": "#1e90ff", "strokeWidth": 1.5},
          "encoding": {"x": {"field": "n", "type": "quantitative"}, "y": {"field": "p", "type": "quantitative"}}
        },
        {
          "data": {"name": "tl"},
          "mark": {"type": "rule", "color": "#7f7f7f", "strokeWidth": 1},
          "encoding": {
            "x": {"field": "x1", "type": "quantitative"},
            "x2": {"field": "x2"},
            "y": {"field": "y1", "type": "quantitative"},
            "y2": {"field": "y2"}
          }
        },
        {
          "data": {"name": "zones"},
          "mark": {"type": "rule", "color": "#2e9a62", "strokeWidth": 7, "opacity": 0.6},
          "encoding": {
            "x": {"field": "x1", "type": "quantitative"},
            "x2": {"field": "x2"},
            "y": {"field": "p", "type": "quantitative"}
          }
        },
        {
          "data": {"name": "fc"},
          "mark": {"type": "line", "color": "#ee4444", "strokeWidth": 4, "strokeDash": [4, 3.5]},
          "encoding": {"x": {"field": "n", "type": "quantitative"}, "y": {"field": "p", "type": "quantitative"}}
        },
        {
          "data": {"values": [{}]},
          "mark": {"type": "point", "shape": "triangle-up", "filled": true, "color": "#ee4444", "opacity": 1, "size": 650, "angle": 10},
          "encoding": {"x": {"datum": 230.1}, "y": {"datum": 1.16723}}
        },
        {
          "data": {"values": [{}]},
          "mark": {"type": "point", "shape": "triangle-down", "filled": true, "color": "#000", "opacity": 1, "size": 60},
          "encoding": {"x": {"datum": 1.95}, "y": {"datum": 1.18978}}
        },
        {
          "data": {"values": [{"t": "EURUSD,H4\u00a0 1.15484 1.15484 1.15440 1.15476"}]},
          "mark": {"type": "text", "align": "left", "baseline": "middle", "fontSize": 18.4, "color": "#000"},
          "encoding": {"text": {"field": "t"}, "x": {"datum": 4.5}, "y": {"datum": 1.18978}}
        },
        {
          "data": {"values": [{}]},
          "mark": {"type": "rect", "color": "#000"},
          "encoding": {"x": {"datum": 299.4}, "x2": {"datum": 312.0}, "y": {"datum": 1.15548}, "y2": {"datum": 1.15404}}
        },
        {
          "data": {"values": [{"t": "1.15476"}]},
          "mark": {"type": "text", "align": "left", "baseline": "middle", "fontSize": 17.6, "color": "#fff"},
          "encoding": {"text": {"field": "t"}, "x": {"datum": 300.4}, "y": {"datum": 1.15476}}
        }
      ]
    },
    {
      "width": 1833,
      "height": 297,
      "layer": [
        {
          "data": {"name": "wmC"},
          "mark": {"type": "rect", "color": "#dce3ee", "fillOpacity": 0.6},
          "encoding": {
            "x": {
              "field": "x1", "type": "quantitative",
              "scale": {"domain": [0, 298.5], "nice": false, "zero": false, "padding": 0},
              "axis": {
                "title": null, "orient": "bottom",
                "values": [0.16,10.59,21.02,31.45,41.88,52.31,62.74,73.17,83.6,94.03,104.46,114.89,125.32,135.75,146.18,156.61,167.04,177.47,187.9,198.33,208.76,219.19,229.62,240.05,250.48,260.91,271.34,281.77,292.2],
                "labelExpr": "(round((datum.value-0.16)/10.43)%2==0 && datum.value<215) ? ['2 Mar 2026','17 Mar 08:00','1 Apr 00:00','15 Apr 16:00','30 Apr 08:00','15 May 00:00','29 May 16:00','15 Jun 08:00','30 Jun 00:00','14 Jul 16:00','29 Jul 08:00'][round((datum.value-0.16)/20.86)] : ''",
                "labelAlign": "left", "labelBaseline": "top", "labelFontSize": 18.4, "labelPadding": 3,
                "labelFlush": false, "labelOverlap": false,
                "tickSize": 7, "tickWidth": 1.5,
                "tickColor": {"condition": {"test": "round((datum.value-0.16)/10.43)%2==0 && datum.value<215", "value": "#000"}, "value": "rgba(0,0,0,0)"},
                "domainWidth": 1.5,
                "grid": true, "gridColor": "#e2e2e2", "gridDash": [5, 4]
              }
            },
            "x2": {"field": "x2"},
            "y": {
              "field": "v1", "type": "quantitative",
              "scale": {"domain": [-0.8, 101.6], "nice": false, "zero": false, "padding": 0},
              "axis": {
                "title": null, "orient": "right", "values": [0, 20, 80, 100],
                "labelFontSize": 17, "labelPadding": 2, "labelOverlap": false,
                "labelBaseline": {"condition": [{"test": "datum.value == 100", "value": "top"}, {"test": "datum.value == 0", "value": "bottom"}], "value": "middle"},
                "tickSize": 5, "domainWidth": 1.5, "grid": false
              }
            },
            "y2": {"field": "v2"}
          }
        },
        {
          "data": {"name": "wmD"},
          "mark": {"type": "area", "orient": "horizontal", "color": "#dce3ee", "fillOpacity": 0.6},
          "encoding": {
            "y": {"field": "v", "type": "quantitative"},
            "x": {"field": "a", "type": "quantitative"},
            "x2": {"field": "b"}
          }
        },
        {
          "data": {"values": [{"lv": 80}, {"lv": 20}]},
          "mark": {"type": "rule", "color": "#b4b4b4", "strokeWidth": 1.2, "strokeDash": [6, 4]},
          "encoding": {"y": {"field": "lv", "type": "quantitative"}}
        },
        {
          "data": {"values": [{}]},
          "mark": {"type": "rule", "color": "#000", "strokeWidth": 1.5},
          "encoding": {"y": {"datum": 101.6}}
        },
        {
          "data": {"values": [{"x1": 50.2, "v1": 90.7, "x2": 249.5, "v2": 62.1}]},
          "mark": {"type": "rule", "color": "#2f6bff", "strokeWidth": 1.2},
          "encoding": {
            "x": {"field": "x1", "type": "quantitative"},
            "x2": {"field": "x2"},
            "y": {"field": "v1", "type": "quantitative"},
            "y2": {"field": "v2"}
          }
        },
        {
          "data": {"name": "stK"},
          "mark": {"type": "line", "color": "#20b2aa", "strokeWidth": 1.6},
          "encoding": {"x": {"field": "n", "type": "quantitative"}, "y": {"field": "v", "type": "quantitative"}}
        },
        {
          "data": {"name": "stD"},
          "mark": {"type": "line", "color": "#ff0000", "strokeWidth": 1.6, "strokeDash": [5, 3]},
          "encoding": {"x": {"field": "n", "type": "quantitative"}, "y": {"field": "v", "type": "quantitative"}}
        },
        {
          "data": {"values": [{"t": "Stoch(20,15,15) 74.8188 77.2046"}]},
          "mark": {"type": "text", "align": "left", "baseline": "middle", "fontSize": 18, "color": "#000"},
          "encoding": {"text": {"field": "t"}, "x": {"datum": 1.3}, "y": {"datum": 94.7}}
        }
      ]
    }
  ]
}
